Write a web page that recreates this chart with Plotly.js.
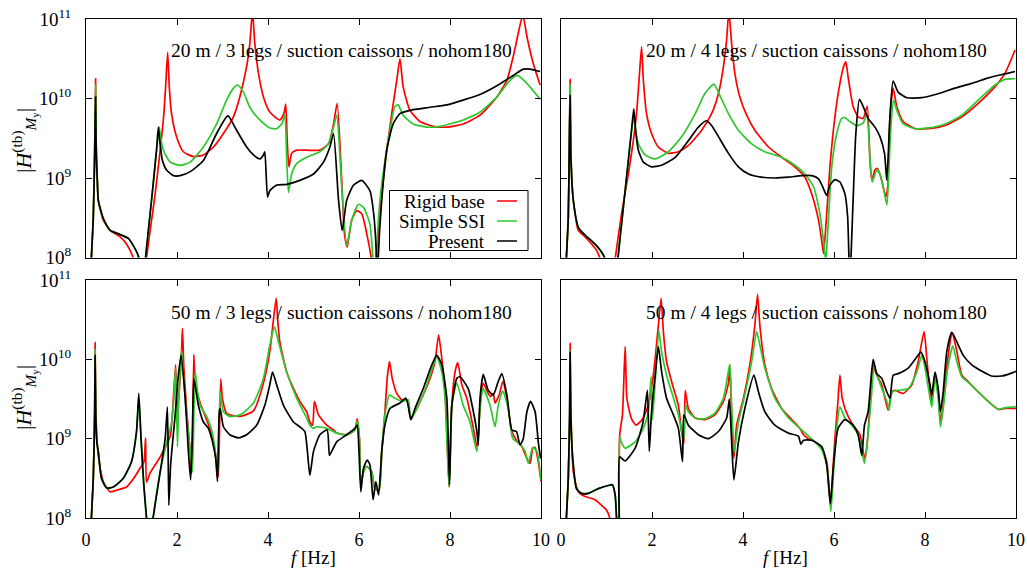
<!DOCTYPE html>
<html><head><meta charset="utf-8">
<script src="https://cdn.plot.ly/plotly-3.0.1.min.js"></script>
<style>html,body{margin:0;padding:0;background:#fff}#chart{width:1027px;height:570px}</style>
</head><body><div id="chart"></div>
<script>
// ---- DATA: [frequency f (Hz), log10 |H_My^(tb)|] ----
const tl_rigid = [[0.10,7.8],[0.16,8.5],[0.19,9.3],[0.21,10.25],[0.225,9.4],[0.25,8.95],[0.27,8.72],[0.38,8.47],[0.53,8.34],[0.75,8.26],[0.89,8.17],[1.0,8.05],[1.06,7.95],[1.15,7.6],[1.25,7.6],[1.32,7.95],[1.41,8.34],[1.52,8.8],[1.63,9.35],[1.70,9.73],[1.75,10.15],[1.795,10.58],[1.83,10.15],[1.88,9.81],[1.99,9.52],[2.14,9.33],[2.36,9.27],[2.58,9.29],[2.80,9.39],[3.02,9.56],[3.24,9.77],[3.38,10.02],[3.53,10.4],[3.60,10.69],[3.66,11.1],[3.71,10.69],[3.79,10.32],[3.90,10.02],[4.04,9.83],[4.26,9.73],[4.35,9.81],[4.39,9.93],[4.42,9.5],[4.46,9.14],[4.52,9.31],[4.63,9.35],[4.85,9.35],[5.14,9.35],[5.33,9.43],[5.44,9.68],[5.52,9.94],[5.62,8.97],[5.68,8.3],[5.74,8.13],[5.84,8.47],[5.95,8.59],[6.06,8.55],[6.17,8.3],[6.28,7.95],[6.33,7.6],[6.37,7.95],[6.50,8.8],[6.61,9.35],[6.72,9.81],[6.83,10.23],[6.90,10.5],[6.97,10.15],[7.12,9.85],[7.34,9.71],[7.63,9.65],[7.93,9.64],[8.29,9.68],[8.66,9.79],[9.03,10.02],[9.25,10.23],[9.39,10.53],[9.50,10.82],[9.60,11.05],[9.69,10.78],[9.83,10.44],[9.98,10.17]];
const tl_ssi = [[0.10,7.8],[0.16,8.5],[0.19,9.3],[0.21,10.17],[0.225,9.4],[0.25,8.95],[0.27,8.72],[0.38,8.49],[0.53,8.34],[0.75,8.29],[0.93,8.24],[1.04,8.15],[1.13,8.05],[1.18,7.95],[1.24,7.6],[1.30,7.95],[1.44,8.72],[1.55,9.35],[1.61,9.64],[1.63,9.55],[1.70,9.35],[1.85,9.2],[2.07,9.16],[2.29,9.2],[2.58,9.39],[2.87,9.68],[3.09,9.98],[3.24,10.13],[3.33,10.17],[3.46,10.08],[3.60,9.89],[3.82,9.73],[4.04,9.63],[4.19,9.62],[4.30,9.68],[4.37,9.79],[4.41,9.25],[4.45,8.82],[4.52,9.05],[4.63,9.18],[4.85,9.26],[5.14,9.33],[5.33,9.43],[5.44,9.64],[5.51,9.79],[5.62,8.89],[5.73,8.15],[5.84,8.47],[5.99,8.67],[6.10,8.63],[6.24,8.42],[6.31,7.95],[6.34,7.6],[6.37,7.95],[6.46,8.72],[6.57,9.22],[6.68,9.6],[6.79,9.9],[6.86,9.92],[6.97,9.79],[7.19,9.68],[7.49,9.64],[7.78,9.65],[8.29,9.73],[8.66,9.83],[9.03,10.02],[9.32,10.23],[9.48,10.29],[9.69,10.19],[9.98,9.99]];
const tl_present = [[0.10,7.8],[0.16,8.5],[0.19,9.3],[0.21,10.02],[0.225,9.3],[0.25,8.95],[0.27,8.72],[0.38,8.49],[0.53,8.34],[0.75,8.29],[0.93,8.24],[1.04,8.15],[1.13,8.05],[1.18,7.95],[1.24,7.6],[1.30,7.95],[1.44,8.72],[1.55,9.35],[1.59,9.64],[1.62,9.47],[1.68,9.22],[1.77,9.10],[1.92,9.03],[2.07,9.03],[2.29,9.08],[2.58,9.22],[2.87,9.56],[3.09,9.77],[3.13,9.78],[3.31,9.6],[3.53,9.39],[3.68,9.29],[3.82,9.24],[3.90,9.29],[3.93,9.33],[3.99,8.76],[4.04,8.84],[4.19,8.91],[4.41,8.92],[4.70,8.97],[5.0,9.05],[5.22,9.2],[5.36,9.39],[5.44,9.56],[5.55,8.72],[5.63,8.34],[5.73,8.72],[5.88,8.91],[6.06,8.97],[6.24,8.84],[6.33,8.51],[6.39,7.95],[6.41,7.6],[6.42,7.95],[6.50,8.72],[6.61,9.35],[6.75,9.68],[6.90,9.81],[7.19,9.86],[7.56,9.89],[7.93,9.92],[8.29,9.98],[8.66,10.05],[9.03,10.16],[9.39,10.29],[9.61,10.37],[9.76,10.37],[9.98,10.34]];

const tr_rigid = [[0.10,7.8],[0.16,8.5],[0.18,9.3],[0.20,10.24],[0.215,9.4],[0.24,8.95],[0.27,8.72],[0.38,8.34],[0.53,8.26],[0.67,8.17],[0.78,8.09],[0.86,7.98],[0.95,7.6],[1.12,7.6],[1.19,7.98],[1.33,8.55],[1.48,9.05],[1.59,9.47],[1.66,9.81],[1.71,10.19],[1.77,10.65],[1.81,10.23],[1.88,9.81],[1.99,9.56],[2.14,9.39],[2.36,9.31],[2.58,9.33],[2.80,9.41],[3.09,9.6],[3.31,9.81],[3.46,10.06],[3.57,10.4],[3.64,10.74],[3.69,11.1],[3.75,10.69],[3.82,10.32],[3.93,10.02],[4.08,9.79],[4.26,9.6],[4.56,9.39],[4.85,9.26],[5.14,9.14],[5.36,9.01],[5.51,8.80],[5.66,8.47],[5.73,8.21],[5.77,8.05],[5.82,8.38],[5.91,9.14],[6.02,9.77],[6.13,10.19],[6.21,10.4],[6.26,10.46],[6.31,10.27],[6.42,9.9],[6.53,9.77],[6.64,9.75],[6.73,9.9],[6.79,9.22],[6.83,8.97],[6.90,9.1],[6.95,9.12],[7.01,9.05],[7.08,8.89],[7.14,8.76],[7.18,8.89],[7.23,9.77],[7.30,10.13],[7.38,9.9],[7.52,9.71],[7.78,9.62],[8.07,9.62],[8.44,9.66],[8.81,9.77],[9.17,9.94],[9.54,10.15],[9.76,10.32],[9.98,10.61]];
const tr_ssi = [[0.10,7.8],[0.16,8.5],[0.18,9.3],[0.20,10.17],[0.215,9.4],[0.24,8.95],[0.27,8.72],[0.38,8.38],[0.53,8.28],[0.67,8.21],[0.78,8.15],[0.89,8.07],[0.97,7.98],[1.05,7.6],[1.20,7.6],[1.25,7.98],[1.37,8.63],[1.48,9.22],[1.55,9.6],[1.60,9.77],[1.64,9.6],[1.70,9.43],[1.85,9.29],[2.07,9.24],[2.36,9.33],[2.65,9.52],[2.95,9.81],[3.16,10.06],[3.36,10.18],[3.49,10.04],[3.68,9.81],[3.90,9.6],[4.19,9.43],[4.48,9.33],[4.85,9.26],[5.14,9.16],[5.36,9.05],[5.55,8.89],[5.69,8.55],[5.77,8.21],[5.82,7.95],[5.86,8.3],[5.95,9.14],[6.06,9.56],[6.17,9.75],[6.24,9.76],[6.35,9.71],[6.50,9.66],[6.64,9.69],[6.72,9.81],[6.79,9.26],[6.84,8.95],[6.94,9.1],[7.01,9.05],[7.08,8.89],[7.16,8.66],[7.19,8.89],[7.25,9.64],[7.31,9.98],[7.38,9.85],[7.52,9.68],[7.78,9.62],[8.07,9.63],[8.44,9.68],[8.81,9.79],[9.17,9.98],[9.54,10.17],[9.76,10.24],[9.98,10.25]];
const tr_present = [[0.10,7.8],[0.16,8.5],[0.18,9.3],[0.20,10.04],[0.215,9.3],[0.24,8.95],[0.27,8.72],[0.38,8.38],[0.53,8.28],[0.67,8.21],[0.78,8.15],[0.89,8.07],[0.97,7.98],[1.05,7.6],[1.20,7.6],[1.25,7.98],[1.37,8.63],[1.48,9.22],[1.55,9.6],[1.60,9.87],[1.64,9.6],[1.70,9.35],[1.81,9.2],[1.99,9.14],[2.21,9.16],[2.51,9.26],[2.80,9.47],[3.02,9.64],[3.19,9.72],[3.31,9.66],[3.46,9.52],[3.68,9.31],[3.90,9.14],[4.12,9.05],[4.41,9.01],[4.70,9.0],[5.0,9.01],[5.29,9.03],[5.51,9.03],[5.66,8.99],[5.75,8.89],[5.84,8.78],[5.91,8.91],[6.02,8.98],[6.13,8.95],[6.24,8.8],[6.30,8.51],[6.33,7.95],[6.35,7.6],[6.37,7.95],[6.42,8.72],[6.48,9.56],[6.56,9.99],[6.64,9.9],[6.75,9.75],[6.90,9.64],[7.01,9.52],[7.11,9.31],[7.16,8.97],[7.23,9.77],[7.30,10.22],[7.41,10.08],[7.60,10.01],[7.93,10.01],[8.29,10.06],[8.66,10.13],[9.03,10.19],[9.39,10.26],[9.76,10.31],[9.98,10.34]];

const bl_rigid = [[0.10,7.8],[0.16,8.5],[0.19,9.3],[0.20,10.21],[0.215,9.4],[0.24,9.0],[0.27,8.79],[0.38,8.46],[0.53,8.33],[0.67,8.35],[0.89,8.39],[1.05,8.5],[1.19,8.63],[1.27,8.7],[1.31,9.01],[1.33,8.45],[1.41,8.57],[1.63,8.77],[1.85,9.03],[1.92,9.51],[1.97,9.93],[2.00,9.3],[2.05,9.6],[2.10,10.1],[2.12,10.39],[2.15,9.9],[2.22,9.3],[2.28,8.9],[2.32,8.56],[2.345,9.2],[2.37,10.06],[2.40,9.7],[2.51,9.45],[2.73,9.11],[2.87,8.73],[2.91,8.52],[2.96,9.75],[3.0,9.5],[3.09,9.32],[3.38,9.28],[3.68,9.35],[3.90,9.7],[4.04,10.1],[4.12,10.5],[4.18,10.77],[4.22,10.45],[4.26,10.22],[4.41,9.84],[4.56,9.63],[4.70,9.47],[4.85,9.34],[4.92,9.21],[4.98,9.17],[5.02,9.47],[5.11,9.3],[5.29,9.17],[5.44,9.11],[5.51,9.07],[5.73,9.05],[5.91,9.11],[5.96,9.25],[6.01,9.0],[6.04,8.42],[6.10,8.58],[6.17,8.65],[6.28,8.58],[6.35,8.37],[6.44,8.35],[6.50,8.84],[6.57,9.34],[6.62,9.76],[6.67,9.97],[6.73,9.76],[6.83,9.57],[6.94,9.49],[7.05,9.49],[7.14,9.26],[7.27,9.38],[7.41,9.55],[7.56,9.76],[7.67,9.97],[7.75,10.31],[7.82,10.01],[7.89,9.63],[7.98,8.39],[8.04,9.42],[8.11,9.84],[8.17,9.96],[8.26,9.68],[8.37,9.51],[8.50,9.17],[8.60,8.88],[8.66,9.42],[8.73,9.7],[8.84,9.57],[8.89,9.53],[8.95,9.57],[8.99,9.45],[9.08,9.55],[9.16,9.72],[9.25,9.51],[9.36,9.09],[9.46,8.98],[9.58,8.9],[9.69,8.75],[9.76,8.69],[9.82,8.88],[9.87,8.89],[9.94,8.71],[10.0,8.46]];
const bl_ssi = [[0.10,7.8],[0.16,8.5],[0.19,9.3],[0.20,10.12],[0.215,9.3],[0.24,8.95],[0.27,8.84],[0.34,8.5],[0.45,8.38],[0.60,8.39],[0.82,8.5],[1.0,8.71],[1.11,9.09],[1.16,9.47],[1.21,9.0],[1.27,8.42],[1.33,8.0],[1.40,7.6],[1.47,7.98],[1.63,8.58],[1.77,8.95],[1.88,9.2],[1.93,9.5],[1.97,9.89],[2.01,8.9],[2.04,9.5],[2.10,10.12],[2.14,9.8],[2.21,9.3],[2.30,8.8],[2.34,8.58],[2.37,9.3],[2.40,9.85],[2.45,9.6],[2.51,9.42],[2.65,9.28],[2.75,9.13],[2.83,8.9],[2.89,8.54],[2.95,9.59],[3.02,9.34],[3.16,9.28],[3.39,9.3],[3.68,9.45],[3.90,9.76],[4.04,10.18],[4.14,10.41],[4.23,10.22],[4.41,9.84],[4.63,9.51],[4.85,9.26],[4.92,9.17],[5.0,9.13],[5.07,9.15],[5.29,9.13],[5.51,9.07],[5.73,9.05],[5.91,9.11],[5.96,9.22],[6.01,9.0],[6.04,8.42],[6.10,8.58],[6.17,8.65],[6.28,8.58],[6.35,8.37],[6.44,8.35],[6.50,8.84],[6.57,9.3],[6.67,9.55],[6.79,9.51],[6.94,9.47],[7.08,9.49],[7.14,9.24],[7.27,9.38],[7.41,9.55],[7.56,9.8],[7.71,10.03],[7.82,9.84],[7.89,9.51],[7.98,8.39],[8.04,9.42],[8.15,9.7],[8.29,9.42],[8.44,9.21],[8.59,8.84],[8.66,9.38],[8.73,9.63],[8.88,9.42],[8.99,9.15],[9.06,9.42],[9.16,9.6],[9.28,9.38],[9.38,9.0],[9.54,8.93],[9.65,8.84],[9.72,8.69],[9.82,8.89],[9.91,8.84],[10.0,8.48]];
const bl_present = [[0.10,7.8],[0.16,8.5],[0.19,9.3],[0.20,10.05],[0.215,9.3],[0.24,8.95],[0.27,8.84],[0.34,8.5],[0.45,8.38],[0.60,8.39],[0.82,8.5],[1.0,8.71],[1.11,9.09],[1.16,9.57],[1.21,9.0],[1.27,8.42],[1.33,8.0],[1.40,7.6],[1.47,7.98],[1.63,8.58],[1.74,9.0],[1.79,9.4],[1.82,8.16],[1.86,8.67],[1.96,9.3],[2.03,9.8],[2.09,10.05],[2.18,9.51],[2.25,8.84],[2.30,8.48],[2.34,9.09],[2.37,9.75],[2.47,9.42],[2.58,9.21],[2.69,9.13],[2.78,8.96],[2.85,8.75],[2.89,8.46],[2.93,9.34],[2.95,9.38],[3.02,9.15],[3.16,9.05],[3.35,9.01],[3.53,9.05],[3.75,9.17],[3.93,9.42],[4.04,9.68],[4.10,9.84],[4.19,9.68],[4.34,9.42],[4.56,9.21],[4.70,9.15],[4.81,9.09],[4.92,8.54],[5.0,8.84],[5.14,9.05],[5.30,9.11],[5.35,8.79],[5.40,8.84],[5.51,8.96],[5.73,9.05],[5.91,9.13],[5.96,9.17],[6.0,8.84],[6.04,8.33],[6.10,8.63],[6.18,8.73],[6.24,8.67],[6.31,8.23],[6.37,8.46],[6.43,8.29],[6.50,8.84],[6.57,9.17],[6.68,9.38],[6.90,9.45],[7.03,9.51],[7.08,9.42],[7.14,9.24],[7.23,9.38],[7.41,9.63],[7.60,9.93],[7.71,10.05],[7.82,9.93],[7.93,9.51],[7.99,8.42],[8.04,9.42],[8.15,9.76],[8.22,9.78],[8.40,9.63],[8.50,9.38],[8.59,9.09],[8.62,8.92],[8.66,9.51],[8.73,9.81],[8.84,9.61],[8.95,9.55],[9.06,9.72],[9.14,9.82],[9.25,9.55],[9.36,9.11],[9.46,9.09],[9.54,8.92],[9.61,9.0],[9.69,9.34],[9.77,9.47],[9.87,9.34],[9.94,8.96],[9.99,8.75]];

const br_rigid = [[0.10,7.8],[0.16,8.5],[0.19,9.3],[0.20,10.2],[0.215,9.4],[0.24,8.9],[0.27,8.58],[0.38,8.33],[0.53,8.27],[0.75,8.23],[0.89,8.16],[1.0,8.1],[1.08,7.98],[1.15,7.6],[1.22,7.6],[1.27,7.98],[1.29,9.05],[1.35,9.3],[1.41,10.16],[1.45,9.5],[1.55,9.25],[1.65,9.17],[1.78,9.24],[1.88,9.36],[1.95,9.5],[2.01,9.72],[2.07,10.01],[2.14,10.43],[2.20,10.77],[2.25,10.35],[2.32,9.97],[2.43,9.72],[2.58,9.42],[2.65,9.09],[2.70,8.94],[2.73,9.61],[2.80,9.38],[2.95,9.26],[3.16,9.24],[3.38,9.3],[3.57,9.47],[3.68,9.7],[3.71,9.93],[3.75,9.3],[3.80,8.75],[3.86,9.17],[4.01,9.51],[4.15,9.93],[4.26,10.43],[4.32,10.82],[4.37,10.43],[4.48,9.93],[4.63,9.63],[4.85,9.38],[5.07,9.24],[5.25,9.13],[5.33,9.05],[5.44,9.0],[5.58,8.96],[5.73,8.88],[5.84,8.71],[5.90,8.33],[5.93,8.16],[5.96,8.46],[6.02,9.0],[6.08,9.42],[6.13,9.8],[6.18,9.51],[6.28,9.32],[6.42,9.17],[6.57,9.05],[6.64,8.84],[6.68,8.75],[6.72,8.88],[6.79,9.42],[6.86,9.93],[6.94,9.8],[7.05,9.68],[7.12,9.51],[7.19,9.36],[7.27,9.59],[7.34,9.61],[7.52,9.57],[7.71,9.68],[7.85,9.97],[7.98,10.35],[8.04,10.01],[8.11,9.59],[8.15,9.47],[8.22,9.82],[8.29,9.59],[8.34,9.21],[8.40,9.42],[8.50,10.01],[8.60,10.33],[8.70,10.1],[8.81,9.8],[8.95,9.72],[9.17,9.59],[9.39,9.47],[9.61,9.37],[9.76,9.38],[10.0,9.38]];
const br_ssi = [[0.10,7.8],[0.16,8.5],[0.19,9.3],[0.20,10.1],[0.215,9.3],[0.24,8.9],[0.27,8.67],[0.34,8.37],[0.45,8.31],[0.60,8.31],[0.82,8.37],[1.04,8.41],[1.13,8.41],[1.19,8.29],[1.22,8.0],[1.25,7.6],[1.27,7.98],[1.29,9.03],[1.33,8.95],[1.41,8.88],[1.63,8.96],[1.81,9.13],[1.92,9.34],[1.98,9.78],[2.01,9.24],[2.07,9.72],[2.15,10.36],[2.21,10.1],[2.32,9.8],[2.43,9.59],[2.58,9.3],[2.65,9.09],[2.70,9.0],[2.74,9.42],[2.80,9.34],[2.95,9.26],[3.16,9.25],[3.38,9.32],[3.57,9.51],[3.71,9.94],[3.75,9.42],[3.81,8.84],[3.90,9.21],[4.04,9.55],[4.19,9.97],[4.30,10.35],[4.37,10.18],[4.48,9.89],[4.70,9.51],[5.0,9.26],[5.29,9.11],[5.58,8.96],[5.73,8.86],[5.84,8.67],[5.93,8.08],[5.99,8.58],[6.06,9.13],[6.13,9.4],[6.24,9.26],[6.39,9.17],[6.53,9.05],[6.62,8.82],[6.67,8.69],[6.74,9.0],[6.83,9.59],[6.88,9.91],[6.97,9.76],[7.08,9.59],[7.16,9.47],[7.21,9.36],[7.28,9.59],[7.41,9.61],[7.63,9.63],[7.82,9.84],[7.93,10.05],[8.0,9.89],[8.11,9.51],[8.15,9.4],[8.22,9.76],[8.29,9.51],[8.34,9.15],[8.40,9.38],[8.50,9.89],[8.61,10.17],[8.70,9.97],[8.81,9.78],[8.95,9.71],[9.17,9.59],[9.39,9.47],[9.61,9.37],[9.76,9.39],[10.0,9.4]];
const br_present = [[0.10,7.8],[0.16,8.5],[0.19,9.3],[0.20,10.09],[0.215,9.3],[0.24,8.9],[0.27,8.67],[0.34,8.37],[0.45,8.31],[0.60,8.31],[0.82,8.37],[1.04,8.41],[1.13,8.42],[1.19,8.29],[1.22,8.0],[1.25,7.6],[1.28,7.98],[1.29,8.77],[1.41,8.72],[1.63,8.88],[1.80,9.2],[1.86,9.45],[1.90,9.61],[1.94,8.84],[1.99,9.34],[2.07,9.8],[2.14,10.16],[2.21,9.85],[2.32,9.51],[2.47,9.3],[2.58,9.13],[2.67,8.71],[2.70,9.3],[2.80,9.17],[3.02,9.05],[3.24,9.0],[3.46,9.09],[3.64,9.26],[3.70,9.5],[3.75,8.96],[3.80,8.48],[3.90,8.96],[4.04,9.38],[4.24,9.8],[4.34,9.59],[4.48,9.34],[4.70,9.17],[5.0,9.07],[5.22,9.03],[5.27,8.93],[5.33,8.98],[5.51,8.98],[5.73,8.9],[5.84,8.67],[5.92,8.18],[5.99,8.67],[6.09,9.13],[6.24,9.24],[6.42,9.17],[6.53,9.05],[6.61,8.79],[6.67,9.17],[6.75,9.34],[6.86,10.0],[6.94,9.82],[7.05,9.76],[7.16,9.59],[7.23,9.51],[7.30,9.8],[7.41,9.82],[7.63,9.89],[7.82,10.03],[7.91,10.09],[8.0,9.97],[8.11,9.68],[8.15,9.55],[8.22,9.84],[8.29,9.63],[8.34,9.34],[8.40,9.59],[8.48,10.1],[8.59,10.34],[8.70,10.22],[8.84,10.05],[9.03,9.93],[9.25,9.85],[9.46,9.79],[9.69,9.79],[9.87,9.82],[10.0,9.85]];

const seriesNames = ['Rigid base', 'Simple SSI', 'Present'];
const panelTitles = [
  '20 m / 3 legs / suction caissons / nohom180',
  '20 m / 4 legs / suction caissons / nohom180',
  '50 m / 3 legs / suction caissons / nohom180',
  '50 m / 4 legs / suction caissons / nohom180'
];
const xTickVals = [0, 2, 4, 6, 8, 10];
const yTickVals = [1e8, 1e9, 1e10, 1e11];
const yTickText = ['10<sup>8</sup>', '10<sup>9</sup>', '10<sup>10</sup>', '10<sup>11</sup>'];
const yTitle = '|<i>H</i><sup>(tb)</sup><sub><i>M</i><sub>y</sub></sub>|';
const xTitle = '<i>f</i> [Hz]';

// ---- STYLE / LAYOUT ----
const colors = ['#ff0000', '#2ec82e', '#000000'];
const FONT = 'Liberation Serif, Times New Roman, serif';
const W = 1027, H = 570;
const PX = v => v / W, PY = v => 1 - v / H;

const panelData = [
  [tl_rigid, tl_ssi, tl_present],
  [tr_rigid, tr_ssi, tr_present],
  [bl_rigid, bl_ssi, bl_present],
  [br_rigid, br_ssi, br_present]
];
const xDom = [[PX(86), PX(541)], [PX(561), PX(1016)]];
const yDom = [[PY(257.5), PY(19)], [PY(518), PY(280)]];

const traces = [];
panelData.forEach((series, p) => {
  const sfx = p === 0 ? '' : String(p + 1);
  series.forEach((pts, s) => {
    traces.push({
      x: pts.map(d => d[0]),
      y: pts.map(d => Math.pow(10, d[1])),
      xaxis: 'x' + sfx, yaxis: 'y' + sfx,
      mode: 'lines', name: seriesNames[s],
      line: {color: colors[s], width: 1.7, shape: 'spline', smoothing: 0.55},
      showlegend: false, hoverinfo: 'skip'
    });
  });
});

const layout = {
  width: W, height: H,
  margin: {l: 0, r: 0, t: 0, b: 0},
  paper_bgcolor: '#fff', plot_bgcolor: '#fff',
  font: {family: FONT, size: 18, color: '#000'},
  showlegend: false,
  annotations: [], shapes: []
};
for (let p = 0; p < 4; p++) {
  const sfx = p === 0 ? '' : String(p + 1);
  const col = p % 2, row = Math.floor(p / 2);
  layout['xaxis' + sfx] = {
    domain: xDom[col], anchor: 'y' + sfx, range: [0, 10],
    tickvals: xTickVals, ticks: 'inside', ticklen: 6, tickwidth: 1, tickcolor: '#000',
    showline: true, linecolor: '#000', linewidth: 1, mirror: 'ticks',
    showgrid: false, zeroline: false, showticklabels: row === 1,
    tickfont: {family: FONT, size: 18, color: '#000'}, ticklabelstandoff: 5
  };
  layout['yaxis' + sfx] = {
    domain: yDom[row], anchor: 'x' + sfx, type: 'log', range: [8, 11],
    tickvals: yTickVals, ticktext: yTickText, ticks: 'inside', ticklen: 6, tickwidth: 1, tickcolor: '#000',
    showline: true, linecolor: '#000', linewidth: 1, mirror: 'ticks',
    showgrid: false, zeroline: false, showticklabels: col === 0,
    tickfont: {family: FONT, size: 19, color: '#000'}, ticklabelstandoff: 10
  };
  layout.annotations.push({
    xref: 'paper', yref: 'paper', x: PX(col === 0 ? 341 : 816), y: PY(row === 0 ? 50 : 312),
    xanchor: 'center', yanchor: 'middle', showarrow: false,
    text: panelTitles[p], font: {family: FONT, size: 19.5, color: '#000'}
  });
}
// y titles
[141, 398].forEach(py => layout.annotations.push({
  xref: 'paper', yref: 'paper', x: PX(24), y: PY(py), xanchor: 'center', yanchor: 'middle',
  textangle: -90, showarrow: false, text: yTitle, font: {family: FONT, size: 22, color: '#000'}
}));
// x titles
[313.5, 785].forEach(px => layout.annotations.push({
  xref: 'paper', yref: 'paper', x: PX(px), y: PY(557), xanchor: 'center', yanchor: 'middle',
  showarrow: false, text: xTitle, font: {family: FONT, size: 19, color: '#000'}
}));
// legend (key) in top-left panel
layout.shapes.push({type: 'rect', xref: 'paper', yref: 'paper', x0: PX(389.5), x1: PX(528), y0: PY(250.5), y1: PY(190.5),
  line: {color: '#000', width: 1}, fillcolor: '#fff', layer: 'above'});
seriesNames.forEach((nm, i) => {
  const py = 201 + i * 20;
  layout.annotations.push({xref: 'paper', yref: 'paper', x: PX(487), y: PY(py), xanchor: 'right', yanchor: 'middle',
    showarrow: false, text: nm, font: {family: FONT, size: 19, color: '#000'}});
  layout.shapes.push({type: 'line', xref: 'paper', yref: 'paper', x0: PX(497), x1: PX(517), y0: PY(py), y1: PY(py),
    line: {color: colors[i], width: 1.5}, layer: 'above'});
});

Plotly.newPlot('chart', traces, layout, {staticPlot: true, displayModeBar: false});
</script>
</body></html>
